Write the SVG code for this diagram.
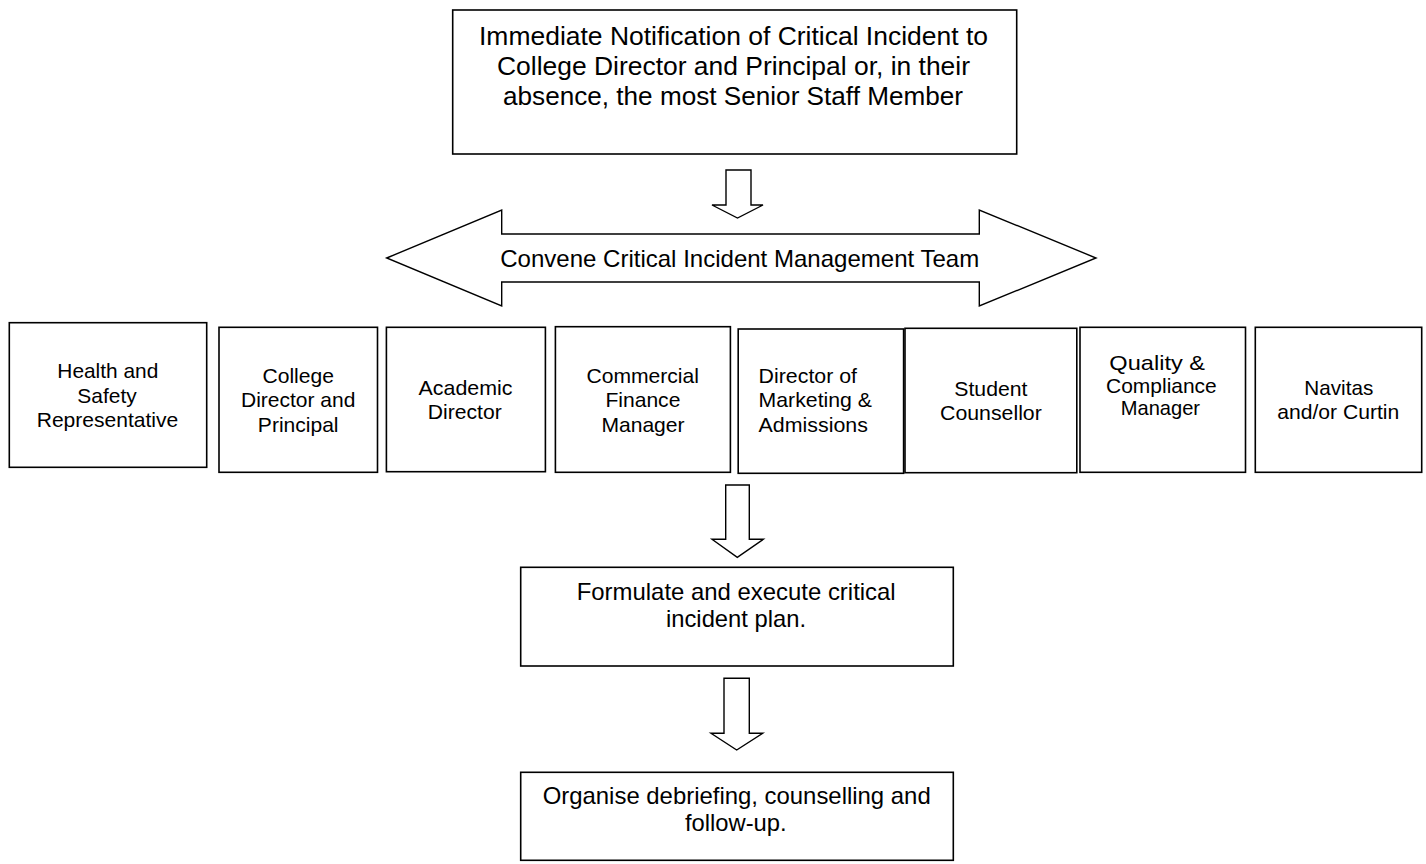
<svg xmlns="http://www.w3.org/2000/svg" width="1426" height="864" viewBox="0 0 1426 864">
<style>
.box{fill:#fff;stroke:#000;stroke-width:1.6}
.arr{fill:#fff;stroke:#000;stroke-width:1.4;stroke-linejoin:miter}
.t{font-family:"Liberation Sans",Arial,sans-serif;fill:#000;text-anchor:middle}
.top{font-size:26px}
.big{font-size:24px}
.sm{font-size:21px}
</style>
<rect width="1426" height="864" fill="#fff"/>
<g id="notify">
<rect class="box" x="452.7" y="10" width="564" height="144"/>
<text class="t top" x="733.5" y="45" textLength="509" lengthAdjust="spacingAndGlyphs">Immediate Notification of Critical Incident to</text>
<text class="t top" x="733.5" y="75" textLength="473" lengthAdjust="spacingAndGlyphs">College Director and Principal or, in their</text>
<text class="t top" x="733" y="105" textLength="460" lengthAdjust="spacingAndGlyphs">absence, the most Senior Staff Member</text>
</g>
<g id="convene">
<polygon class="arr" points="386.7,258 501.7,210 501.7,234 979.3,234 979.3,210 1096,258 979.3,306 979.3,282 501.7,282 501.7,306"/>
<text class="t big" x="739.7" y="266.7" textLength="479" lengthAdjust="spacingAndGlyphs">Convene Critical Incident Management Team</text>
</g>
<g id="health">
<rect class="box" x="9.3" y="322.7" width="197.4" height="144.6"/>
<text class="t sm" x="107.8" y="378.3" textLength="101" lengthAdjust="spacingAndGlyphs">Health and</text>
<text class="t sm" x="107" y="402.7" textLength="59.4" lengthAdjust="spacingAndGlyphs">Safety</text>
<text class="t sm" x="107.5" y="427.3" textLength="141.6" lengthAdjust="spacingAndGlyphs">Representative</text>
</g>
<g id="college">
<rect class="box" x="219" y="327.3" width="158.5" height="145"/>
<text class="t sm" x="298.2" y="382.7" textLength="71.5" lengthAdjust="spacingAndGlyphs">College</text>
<text class="t sm" x="298.2" y="407.3" textLength="114.4" lengthAdjust="spacingAndGlyphs">Director and</text>
<text class="t sm" x="298.2" y="431.7" textLength="80.7" lengthAdjust="spacingAndGlyphs">Principal</text>
</g>
<g id="academic">
<rect class="box" x="386.4" y="327.3" width="159" height="144.4"/>
<text class="t sm" x="465.5" y="395" textLength="93.9" lengthAdjust="spacingAndGlyphs">Academic</text>
<text class="t sm" x="464.8" y="419.3" textLength="73.9" lengthAdjust="spacingAndGlyphs">Director</text>
</g>
<g id="finance">
<rect class="box" x="555.4" y="326.7" width="175" height="145.6"/>
<text class="t sm" x="642.7" y="382.7" textLength="112.6" lengthAdjust="spacingAndGlyphs">Commercial</text>
<text class="t sm" x="642.9" y="407.3" textLength="75" lengthAdjust="spacingAndGlyphs">Finance</text>
<text class="t sm" x="643" y="431.7" textLength="83.2" lengthAdjust="spacingAndGlyphs">Manager</text>
</g>
<g id="marketing">
<rect class="box" x="738.2" y="329" width="165.4" height="144.3"/>
<text class="t sm" x="758.6" y="382.7" style="text-anchor:start" textLength="98.4" lengthAdjust="spacingAndGlyphs">Director of</text>
<text class="t sm" x="758.6" y="407.3" style="text-anchor:start" textLength="113.4" lengthAdjust="spacingAndGlyphs">Marketing &amp;</text>
<text class="t sm" x="758.6" y="431.7" style="text-anchor:start" textLength="109.3" lengthAdjust="spacingAndGlyphs">Admissions</text>
</g>
<g id="counsellor">
<rect class="box" x="905" y="328.3" width="171.8" height="144.4"/>
<text class="t sm" x="990.9" y="396" textLength="73.2" lengthAdjust="spacingAndGlyphs">Student</text>
<text class="t sm" x="990.9" y="420" textLength="101.8" lengthAdjust="spacingAndGlyphs">Counsellor</text>
</g>
<g id="quality">
<rect class="box" x="1080" y="327.3" width="165.5" height="145"/>
<text class="t sm" x="1157.2" y="370" textLength="95.7" lengthAdjust="spacingAndGlyphs">Quality &amp;</text>
<text class="t sm" x="1161.4" y="393.3" textLength="110.7" lengthAdjust="spacingAndGlyphs">Compliance</text>
<text class="t sm" x="1160.4" y="415" textLength="79.3" lengthAdjust="spacingAndGlyphs">Manager</text>
</g>
<g id="navitas">
<rect class="box" x="1255.3" y="327.3" width="166.4" height="145"/>
<text class="t sm" x="1338.8" y="395" textLength="69" lengthAdjust="spacingAndGlyphs">Navitas</text>
<text class="t sm" x="1338.3" y="419.3" textLength="122" lengthAdjust="spacingAndGlyphs">and/or Curtin</text>
</g>
<g id="plan">
<rect class="box" x="520.7" y="567.3" width="432.6" height="98.7"/>
<text class="t big" x="736.2" y="600" textLength="319" lengthAdjust="spacingAndGlyphs">Formulate and execute critical</text>
<text class="t big" x="736" y="627.3" textLength="140" lengthAdjust="spacingAndGlyphs">incident plan.</text>
</g>
<g id="debrief">
<rect class="box" x="520.7" y="772.3" width="432.6" height="88"/>
<text class="t big" x="736.7" y="804.3" textLength="388" lengthAdjust="spacingAndGlyphs">Organise debriefing, counselling and</text>
<text class="t big" x="735.8" y="831" textLength="101.7" lengthAdjust="spacingAndGlyphs">follow-up.</text>
</g>
<g id="connectors">
<polygon class="arr" points="726,170 751,170 751,205 763,205 737.5,218 712,205 726,205"/>
<polygon class="arr" points="725.7,485 749.3,485 749.3,539.3 763.3,539.3 737.3,557.3 712,539.3 725.7,539.3"/>
<polygon class="arr" points="724,678.3 749.3,678.3 749.3,733.3 762.7,733.3 736.7,750 711,733.3 724,733.3"/>
</g>
</svg>
